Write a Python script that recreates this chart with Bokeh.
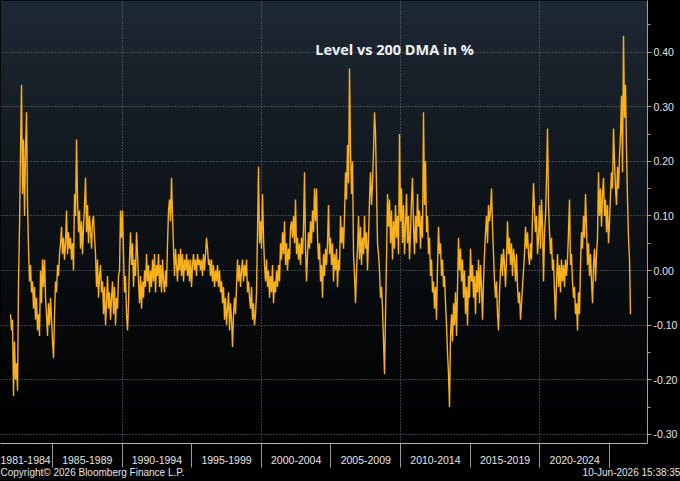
import numpy as np
from bokeh.plotting import figure
from bokeh.models import Range1d, FixedTicker, NumeralTickFormatter, LinearAxis, Label
from bokeh.embed import file_html
from bokeh.resources import INLINE

# ---------------- data ----------------
title_text = "Level vs 200 DMA in %"
copyright_text = "Copyright\u00a9 2026 Bloomberg Finance L.P."
stamp_text = "10-Jun-2026 15:38:35"
period_labels = ["1981-1984", "1985-1989", "1990-1994", "1995-1999", "2000-2004",
                 "2005-2009", "2010-2014", "2015-2019", "2020-2024"]
period_starts = [1981, 1985, 1990, 1995, 2000, 2005, 2010, 2015, 2020]
period_ends = [1985, 1990, 1995, 2000, 2005, 2010, 2015, 2020, 2025]
y_ticks = [-0.30, -0.20, -0.10, 0.00, 0.10, 0.20, 0.30, 0.40]
first_date = 1981.99
last_date = 2026.51

level_vs_dma = [
    -0.08, -0.11, -0.09, -0.23, -0.13, -0.20, -0.17, -0.22, -0.02, 0.08,
    0.22, 0.34, 0.14, 0.24, 0.10, 0.22, 0.29, 0.12, 0.04, -0.02,
    0.01, -0.04, -0.02, -0.07, -0.03, -0.09, -0.05, -0.11, -0.08, -0.12,
    0.00, -0.06, 0.02, -0.03, 0.02, -0.05, -0.08, -0.12, -0.06, -0.10,
    -0.05, -0.09, -0.13, -0.16, -0.08, -0.02, -0.04, 0.01, -0.01, 0.03,
    0.05, 0.08, 0.03, 0.06, 0.02, 0.05, 0.11, 0.03, 0.07, 0.04,
    0.06, 0.02, 0.05, 0.00, 0.14, 0.10, 0.24, 0.13, 0.07, 0.11,
    0.04, 0.09, 0.03, 0.08, 0.12, 0.17, 0.07, 0.12, 0.05, 0.10,
    0.07, 0.04, 0.09, 0.10, 0.06, 0.03, -0.03, 0.02, -0.05, -0.01,
    0.01, -0.04, -0.02, -0.08, -0.03, -0.10, -0.06, -0.01, -0.07, -0.04,
    -0.09, -0.05, -0.02, -0.08, -0.03, -0.10, -0.05, -0.07, -0.01, 0.00,
    0.11, 0.06, 0.11, 0.03, -0.04, -0.01, -0.08, -0.11, -0.06, 0.02,
    0.07, 0.01, 0.05, -0.03, 0.02, -0.01, 0.07, 0.03, -0.02, -0.06,
    -0.01, -0.07, -0.02, -0.05, 0.00, -0.03, 0.03, -0.02, 0.01, -0.04,
    0.00, -0.03, 0.02, -0.02, 0.03, -0.04, 0.01, -0.01, 0.03, -0.03,
    0.01, -0.04, 0.02, -0.02, -0.04, 0.00, -0.03, 0.05, 0.11, 0.13,
    0.09, 0.17, 0.10, 0.04, -0.01, 0.04, 0.01, -0.02, 0.03, 0.00,
    0.04, -0.01, 0.03, -0.02, 0.02, 0.00, 0.03, -0.01, 0.02, -0.02,
    0.02, -0.03, 0.01, 0.03, 0.00, 0.02, -0.01, 0.03, 0.01, 0.02,
    0.00, 0.02, -0.01, 0.03, 0.00, 0.03, 0.06, 0.04, 0.01, 0.02,
    -0.01, 0.02, -0.02, 0.01, -0.03, 0.00, -0.02, 0.01, -0.03, 0.00,
    -0.04, -0.02, -0.06, -0.03, -0.09, -0.05, -0.10, -0.07, -0.04, -0.11,
    -0.06, -0.09, -0.14, -0.08, -0.05, -0.08, -0.03, 0.02, -0.02, 0.01,
    -0.03, 0.00, 0.02, -0.02, 0.01, -0.01, 0.02, -0.04, -0.02, -0.05,
    -0.07, -0.03, -0.09, -0.06, -0.10, -0.08, -0.04, 0.07, 0.19, 0.05,
    0.09, 0.04, 0.14, 0.06, 0.01, -0.02, 0.02, -0.03, 0.00, -0.05,
    -0.01, -0.04, 0.01, -0.06, -0.02, -0.04, 0.00, -0.03, 0.01, -0.02,
    0.05, 0.02, 0.07, 0.03, 0.09, 0.01, 0.05, 0.00, 0.04, 0.02,
    0.08, 0.09, 0.06, 0.10, 0.05, 0.13, 0.03, 0.06, 0.02, 0.05,
    0.01, 0.06, 0.03, 0.08, 0.18, 0.04, -0.02, 0.03, 0.07, 0.04,
    0.09, 0.05, 0.11, 0.07, 0.15, 0.09, 0.15, 0.06, 0.02, 0.05,
    -0.02, 0.01, -0.05, 0.03, -0.01, 0.04, 0.01, 0.05, 0.12, 0.03,
    0.06, 0.01, 0.05, -0.02, 0.03, 0.00, 0.04, -0.03, 0.02, 0.00,
    0.10, 0.05, 0.08, 0.04, 0.10, 0.18, 0.13, 0.23, 0.16, 0.37,
    0.22, 0.14, 0.20, 0.03, -0.01, -0.06, 0.00, 0.04, 0.10, 0.02,
    0.08, 0.01, 0.06, 0.03, 0.10, 0.04, 0.07, 0.00, 0.06, 0.13,
    0.18, 0.12, 0.16, 0.22, 0.29, 0.25, 0.15, 0.05, 0.03, 0.00,
    -0.05, -0.03, -0.07, -0.13, -0.19, -0.08, 0.02, 0.14, 0.08, 0.13,
    0.05, 0.11, 0.02, 0.09, 0.04, 0.12, 0.06, 0.10, 0.03, 0.25,
    0.09, 0.15, 0.05, 0.12, 0.03, 0.08, 0.14, 0.05, 0.10, 0.02,
    0.07, 0.13, 0.17, 0.08, 0.03, 0.10, 0.05, 0.14, 0.08, 0.11,
    0.04, 0.10, 0.06, 0.29, 0.12, 0.20, 0.07, 0.10, 0.03, 0.06,
    -0.01, 0.02, -0.04, -0.02, -0.07, -0.03, -0.09, 0.01, 0.08, 0.03,
    0.05, -0.01, 0.02, -0.03, -0.01, -0.06, -0.10, -0.15, -0.19, -0.25,
    -0.12, -0.08, -0.13, -0.06, -0.10, -0.04, -0.12, -0.03, 0.06, 0.00,
    0.04, -0.02, 0.02, -0.05, 0.00, -0.08, -0.03, -0.10, -0.01, -0.05,
    0.04, -0.02, 0.01, -0.05, -0.01, -0.08, 0.00, -0.04, 0.02, -0.06,
    0.01, -0.03, -0.09, -0.02, 0.03, 0.07, 0.10, 0.05, 0.12, 0.09,
    0.11, 0.15, 0.08, 0.03, -0.02, -0.05, -0.02, -0.08, -0.11, -0.04,
    0.00, 0.03, -0.01, 0.04, 0.01, -0.03, 0.02, 0.09, 0.03, 0.06,
    0.01, 0.05, -0.01, 0.04, 0.02, -0.02, 0.03, -0.03, -0.06, -0.04,
    -0.09, -0.06, -0.03, 0.00, 0.03, 0.08, 0.04, 0.07, 0.03, 0.01,
    0.05, 0.02, 0.10, 0.16, 0.11, 0.07, 0.10, 0.03, 0.06, 0.12,
    0.04, 0.13, 0.08, -0.02, 0.07, 0.10, 0.17, 0.26, 0.12, 0.07,
    0.03, 0.06, 0.00, 0.02, -0.04, -0.09, -0.02, 0.03, -0.03, 0.01,
    -0.04, 0.02, -0.02, 0.01, -0.03, 0.02, -0.01, 0.02, 0.07, 0.13,
    0.01, 0.03, -0.02, -0.05, -0.03, -0.08, -0.06, -0.11, -0.04, -0.08,
    0.01, 0.07, 0.04, 0.10, 0.06, 0.14, 0.08, 0.01, 0.05, -0.01,
    0.03, -0.02, -0.06, 0.01, 0.04, -0.02, 0.03, 0.06, 0.18, 0.10,
    0.15, 0.08, 0.14, 0.17, 0.10, 0.13, 0.07, 0.12, 0.05, 0.09,
    0.14, 0.18, 0.15, 0.26, 0.20, 0.15, 0.12, 0.19, 0.15, 0.21,
    0.25, 0.32, 0.18, 0.43, 0.28, 0.34, 0.22, 0.13, 0.06, 0.02, -0.08,
]
dates = np.linspace(first_date, last_date, len(level_vs_dma))

# ---------------- figure ----------------
X0, X1 = 1981.27, 2027.73
Y0, Y1 = -0.3168, 0.4945

p = figure(width=680, height=481, output_backend="svg", toolbar_location=None,
           x_range=Range1d(X0, X1), y_range=Range1d(Y0, Y1),
           y_axis_location="right", min_border=0,
           min_border_bottom=38, min_border_right=33)
p.background_fill_color = "black"
p.border_fill_color = "black"
p.outline_line_color = None

# background gradient (top slate -> bottom black)
n = 200
frac = np.linspace(0.0, 1.0, n)[:, None] ** 1.15
top = np.array([31, 41, 52])
rgb = (top[None, :] * frac).astype(np.uint32)
img = np.empty((n, 1), dtype=np.uint32)
view = img.view(dtype=np.uint8).reshape((n, 1, 4))
view[:, 0, 0] = rgb[:, 0]
view[:, 0, 1] = rgb[:, 1]
view[:, 0, 2] = rgb[:, 2]
view[:, 0, 3] = 255
p.image_rgba(image=[img], x=X0, y=Y0, dw=X1 - X0, dh=Y1 - Y0, level="image")

# grids
p.ygrid.ticker = FixedTicker(ticks=y_ticks)
p.xgrid.ticker = FixedTicker(ticks=[1990, 2000, 2010, 2020])
for g in (p.xgrid, p.ygrid):
    g.grid_line_color = "#6e7882"
    g.grid_line_dash = "1 2"
    g.grid_line_width = 1

# line
p.line(dates, level_vs_dma, line_color="#f8b01c", line_width=1.4)

# x axis (period labels + separators)
mids = [(s + e) / 2 for s, e in zip(period_starts, period_ends)]
xa = p.xaxis[0]
xa.ticker = FixedTicker(ticks=mids, minor_ticks=period_ends)
xa.major_label_overrides = {m: lab for m, lab in zip(mids, period_labels)}
xa.major_tick_out = 0
xa.major_tick_in = 0
xa.minor_tick_out = 24
xa.minor_tick_in = 0
xa.minor_tick_line_color = "#9a9a9a"
xa.axis_line_color = "#b4b4b4"
xa.major_label_standoff = -12
xa.major_label_text_color = "#e6e6e6"
xa.major_label_text_font = "Liberation Sans"
xa.major_label_text_font_size = "10.5px"

# footer row (copyright at left, time stamp at right)
foot_pos = [X0 + 0.0656 * (X1 - X0), X0 + 0.9753 * (X1 - X0)]
foot = LinearAxis(ticker=FixedTicker(ticks=foot_pos, minor_ticks=[]),
                  major_label_overrides={foot_pos[0]: copyright_text, foot_pos[1]: stamp_text})
foot.axis_line_color = None
foot.major_tick_line_color = None
foot.minor_tick_line_color = None
foot.major_tick_out = 0
foot.major_tick_in = 0
foot.minor_tick_out = 0
foot.minor_tick_in = 0
foot.major_label_standoff = 0
foot.major_label_text_color = "#e6e6e6"
foot.major_label_text_font = "Liberation Sans"
foot.major_label_text_font_size = "10px"
p.add_layout(foot, "below")

# y axis (right)
ya = p.yaxis[0]
ya.ticker = FixedTicker(ticks=y_ticks,
                        minor_ticks=[-0.25, -0.15, -0.05, 0.05, 0.15, 0.25, 0.35, 0.45])
ya.formatter = NumeralTickFormatter(format="0.00")
ya.axis_line_color = "#d89a2a"
ya.major_tick_line_color = "#d89a2a"
ya.minor_tick_line_color = "#d89a2a"
ya.major_tick_out = 4
ya.major_tick_in = 0
ya.minor_tick_out = 3
ya.minor_tick_in = 0
ya.major_label_standoff = 2
ya.major_label_text_color = "#e6e6e6"
ya.major_label_text_font = "Liberation Sans"
ya.major_label_text_font_size = "10.5px"

# title
p.add_layout(Label(x=394, y=394, x_units="screen", y_units="screen", text=title_text,
                   text_align="center", text_baseline="alphabetic",
                   text_font="Open Sans", text_font_style="bold",
                   text_font_size="14.5px", text_color="#eef2f5"))

html = file_html(p, INLINE)
html = html.replace("</head>", "<style>body{background:#000;}</style></head>", 1)
open("out.html", "w").write(html)
